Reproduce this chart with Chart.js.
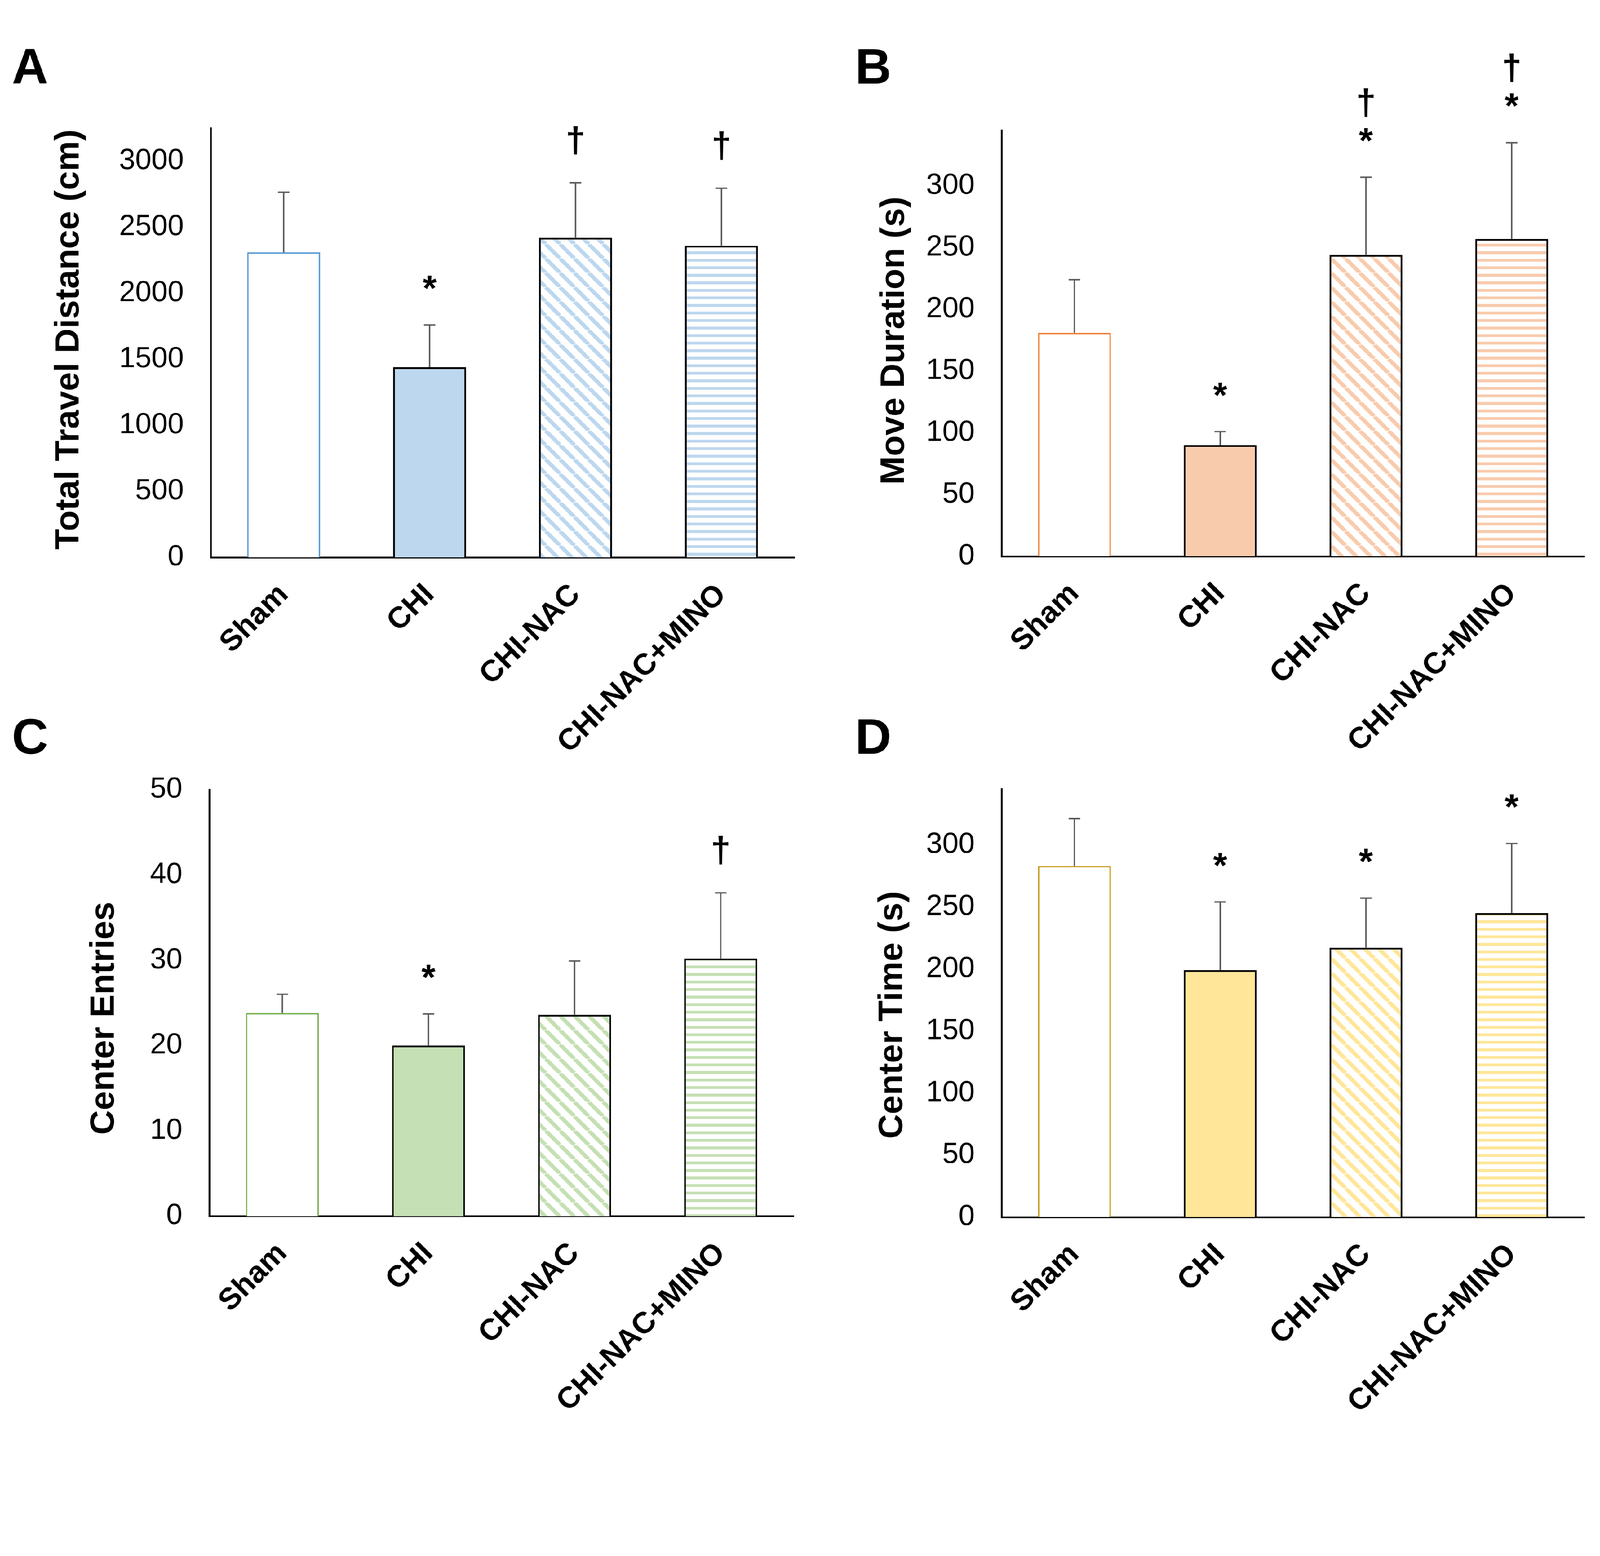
<!DOCTYPE html>
<html>
<head>
<meta charset="utf-8">
<script src="https://cdn.jsdelivr.net/npm/chart.js@4.4.1/dist/chart.umd.min.js"></script>
<style>
  html, body { margin: 0; padding: 0; background: #fff; width: 100%; height: 100%; overflow: hidden; }
  #page { position: absolute; left: 0; top: 0; width: 4457px; height: 3984px; transform-origin: 0 0; background: #fff; }
  .panel { position: absolute; }
  .panel canvas { display: block; }
</style>
</head>
<body>
<div id="page">
<div class="panel" style="left:0px;top:0px"><canvas id="chartA" width="2228" height="2160" style="width:2228px;height:2160px"></canvas></div>
<div class="panel" style="left:2228px;top:0px"><canvas id="chartB" width="2229" height="2160" style="width:2229px;height:2160px"></canvas></div>
<div class="panel" style="left:0px;top:1990px"><canvas id="chartC" width="2228" height="1994" style="width:2228px;height:1994px"></canvas></div>
<div class="panel" style="left:2228px;top:1990px"><canvas id="chartD" width="2229" height="1994" style="width:2229px;height:1994px"></canvas></div>
</div>
<script>
// data
const categories = ['Sham', 'CHI', 'CHI-NAC', 'CHI-NAC+MINO'];

const distanceMean = [2310, 1440, 2420, 2360];
const distanceErr = [455, 320, 417, 435];
const distanceMarks = ['', '*', '†', '†'];
const distanceTicks = [0, 500, 1000, 1500, 2000, 2500, 3000];

const moveMean = [181, 90, 244, 257];
const moveErr = [43, 11, 63, 78];
const moveMarks = ['', '*', '*†', '*†'];
const moveTicks = [0, 50, 100, 150, 200, 250, 300];

const entriesMean = [23.8, 20.0, 23.6, 30.2];
const entriesErr = [2.2, 3.7, 6.3, 7.7];
const entriesMarks = ['', '*', '', '†'];
const entriesTicks = [0, 10, 20, 30, 40, 50];

const centerTimeMean = [283, 199, 217, 245];
const centerTimeErr = [38, 55, 40, 56];
const centerTimeMarks = ['', '*', '*', '*'];
const centerTimeTicks = [0, 50, 100, 150, 200, 250, 300];

const FONT = '"Liberation Sans", Arial, sans-serif';

// fit the 4457x3984 layout into whatever the viewport really is
function fitPage() {
    const s = Math.min(window.innerWidth / 4457, window.innerHeight / 3984);
    document.getElementById('page').style.transform = 'scale(' + s + ')';
}

// stripe fills
function diagPattern(color) {
    const s = 40;
    const c = document.createElement('canvas');
    c.width = s; c.height = s;
    const g = c.getContext('2d');
    g.fillStyle = '#fff';
    g.fillRect(0, 0, s, s);
    g.strokeStyle = color;
    g.lineWidth = 11;
    [-s, 0, s].forEach(o => {
        g.beginPath();
        g.moveTo(o, 0);
        g.lineTo(o + s, s);
        g.stroke();
    });
    return g.createPattern(c, 'repeat');
}

function horizPattern(color) {
    const c = document.createElement('canvas');
    c.width = 20; c.height = 21;
    const g = c.getContext('2d');
    g.fillStyle = '#fff';
    g.fillRect(0, 0, 20, 21);
    g.fillStyle = color;
    g.fillRect(0, 7, 20, 8);
    return g.createPattern(c, 'repeat');
}

// error bars + significance marks
const errorBars = {
    id: 'errorBars',
    afterDatasetsDraw(chart, args, opts) {
        const meta = chart.getDatasetMeta(0);
        const y = chart.scales.y;
        const ctx = chart.ctx;
        ctx.save();
        meta.data.forEach((bar, i) => {
            const top = y.getPixelForValue(opts.mean[i] + opts.err[i]);
            ctx.strokeStyle = '#595959';
            ctx.lineWidth = 4;
            ctx.beginPath();
            ctx.moveTo(bar.x, bar.y);
            ctx.lineTo(bar.x, top);
            ctx.moveTo(bar.x - 16, top);
            ctx.lineTo(bar.x + 16, top);
            ctx.stroke();

            ctx.fillStyle = '#000';
            ctx.font = 'bold 100px ' + FONT;
            ctx.textAlign = 'center';
            ctx.textBaseline = 'alphabetic';
            Array.from(opts.marks[i] || '').forEach((ch, j) => {
                const cy = top - 118 - j * 90;
                const m = ctx.measureText(ch);
                const by = cy + (m.actualBoundingBoxAscent - m.actualBoundingBoxDescent) / 2;
                ctx.fillText(ch, bar.x, by);
            });
        });
        ctx.restore();
    }
};

// panel letter and y title
const decor = {
    id: 'decor',
    afterDraw(chart, args, opts) {
        const ctx = chart.ctx;
        ctx.save();
        ctx.fillStyle = '#000';
        ctx.font = 'bold 140px ' + FONT;
        ctx.textAlign = 'left';
        ctx.textBaseline = 'alphabetic';
        ctx.fillText(opts.letter, opts.lx, opts.ly);

        ctx.translate(opts.tx, opts.ty);
        ctx.rotate(-Math.PI / 2);
        ctx.font = 'bold 95px ' + FONT;
        ctx.textAlign = 'center';
        ctx.textBaseline = 'middle';
        ctx.fillText(opts.title, 0, 0);
        ctx.restore();
    }
};

function makePanel(id, p) {
    const fills = [
        '#ffffff',
        p.fill,
        diagPattern(p.fill),
        horizPattern(p.fill)
    ];
    const borders = [p.edge, '#000', '#000', '#000'];

    return new Chart(document.getElementById(id), {
        type: 'bar',
        data: {
            labels: categories,
            datasets: [{
                data: p.mean,
                backgroundColor: fills,
                borderColor: borders,
                borderWidth: [4, 5, 5, 5],
                barPercentage: 0.5,
                categoryPercentage: 1
            }]
        },
        options: {
            responsive: false,
            devicePixelRatio: 1,
            animation: false,
            events: [],
            layout: { padding: { top: p.top, right: p.right, bottom: 0, left: 0 } },
            plugins: {
                legend: { display: false },
                tooltip: { enabled: false },
                errorBars: { mean: p.mean, err: p.err, marks: p.marks },
                decor: { letter: p.letter, lx: p.lx, ly: p.ly, title: p.title, tx: p.tx, ty: p.ty }
            },
            scales: {
                x: {
                    grid: { display: false, drawTicks: false },
                    border: { display: true, color: '#000', width: 5 },
                    ticks: {
                        color: '#000',
                        font: { family: FONT, size: 84, weight: 'bold' },
                        minRotation: 45,
                        maxRotation: 45,
                        autoSkip: false,
                        padding: 55
                    },
                    afterFit: s => { s.height = p.xHeight; }
                },
                y: {
                    min: 0,
                    max: p.max,
                    grid: { display: false, drawTicks: false },
                    border: { display: true, color: '#000', width: 5 },
                    ticks: {
                        autoSkip: false,
                        color: '#000',
                        font: { family: FONT, size: 81 },
                        padding: 75,
                        callback: v => String(v)
                    },
                    afterBuildTicks: s => { s.ticks = p.ticks.map(v => ({ value: v })); },
                    afterFit: s => { s.width = p.yWidth; }
                }
            }
        },
        plugins: [errorBars, decor]
    });
}

document.addEventListener('DOMContentLoaded', () => {
    fitPage();
    makePanel('chartA', {
        mean: distanceMean, err: distanceErr, marks: distanceMarks, ticks: distanceTicks,
        fill: '#BDD7EE', edge: '#5B9BD5',
        max: 3250,
        top: 357, right: 15, yWidth: 587, xHeight: 607,
        letter: 'A', lx: 33, ly: 233,
        title: 'Total Travel Distance (cm)', tx: 193, ty: 946
    });
    makePanel('chartB', {
        mean: moveMean, err: moveErr, marks: moveMarks, ticks: moveTicks,
        fill: '#F8CBAD', edge: '#ED7D31',
        max: 345,
        top: 363, right: 43, yWidth: 562, xHeight: 610,
        letter: 'B', lx: 154, ly: 233,
        title: 'Move Duration (s)', tx: 264, ty: 949
    });
    makePanel('chartC', {
        mean: entriesMean, err: entriesErr, marks: entriesMarks, ticks: entriesTicks,
        fill: '#C5E0B4', edge: '#70AD47',
        max: 50,
        top: 210, right: 17, yWidth: 583, xHeight: 596,
        letter: 'C', lx: 33, ly: 110,
        title: 'Center Entries', tx: 291, ty: 847
    });
    makePanel('chartD', {
        mean: centerTimeMean, err: centerTimeErr, marks: centerTimeMarks, ticks: centerTimeTicks,
        fill: '#FFE699', edge: '#BF9000',
        max: 345,
        top: 208, right: 43, yWidth: 562, xHeight: 593,
        letter: 'D', lx: 154, ly: 110,
        title: 'Center Time (s)', tx: 259, ty: 838
    });
});
</script>
</body>
</html>
